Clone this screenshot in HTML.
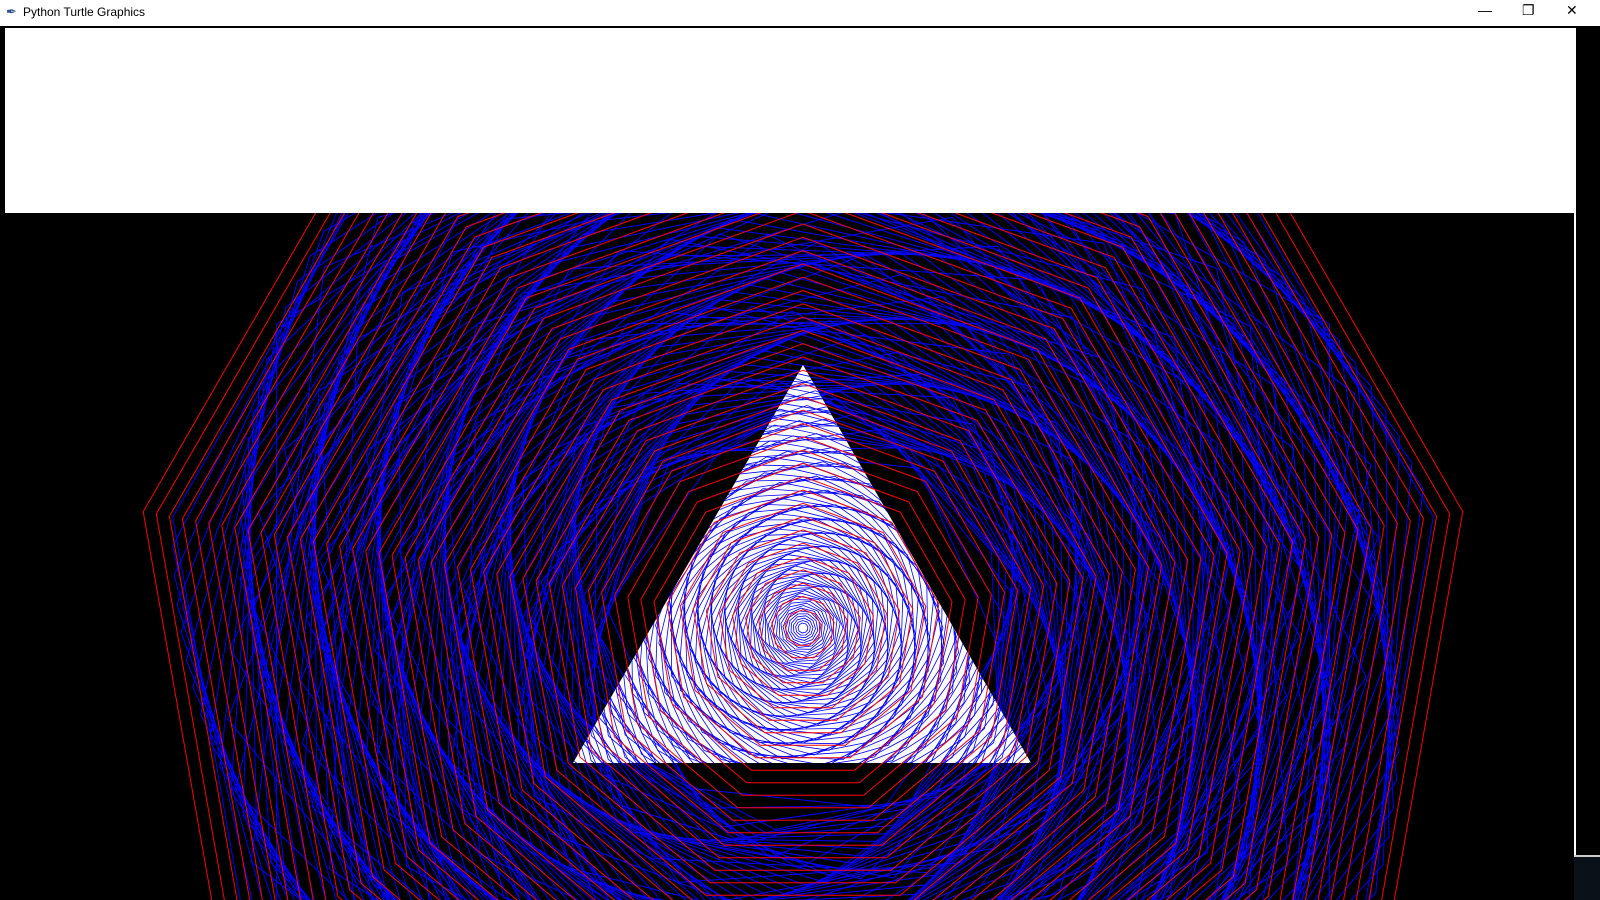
<!DOCTYPE html>
<html style="overflow:hidden;width:1600px;height:900px"><head><meta charset="utf-8"><style>
html,body{margin:0;padding:0;width:1600px;height:900px;overflow:hidden;background:#000;font-family:"Liberation Sans",sans-serif}
#titlebar{position:absolute;left:0;top:0;width:1600px;height:26px;background:#fff}
#title{position:absolute;left:23px;top:5px;font-size:12px;color:#000}
.btn{position:absolute;top:2px;font-size:14px;color:#000}
svg{position:absolute;left:0;top:0;display:block}
</style></head><body>
<div id="titlebar">
<span style="position:absolute;left:6px;top:4px;font-size:13px;color:#2a4f8a">✒</span>
<span id="title">Python Turtle Graphics</span>
<span class="btn" style="left:1478px">—</span>
<span class="btn" style="left:1522px">❐</span>
<span class="btn" style="left:1566px">✕</span>
</div>
<svg id="cv" width="1600" height="900"></svg>
<script>
const center=[803,628];
const redRadii=[];for(let r=670;r>10;r-=13.3)redRadii.push(r);
const blueRadii=[];for(let r=640;r>200;r-=4.5)blueRadii.push(r);
const triRadii=[];for(let r=265;r>4;r-=2.5)triRadii.push(r);
const svg=document.getElementById('cv');
const NS='http://www.w3.org/2000/svg';
function mk(t,a){const e=document.createElementNS(NS,t);for(const k in a)e.setAttribute(k,a[k]);return e;}
function poly(r,n,rot){let p=[];for(let i=0;i<n;i++){const a=(rot+90+360*i/n)*Math.PI/180;p.push((center[0]+r*Math.cos(a)).toFixed(1)+','+(center[1]-r*Math.sin(a)).toFixed(1));}return p.join(' ');}
const bg=mk('rect',{x:0,y:26,width:1600,height:874,fill:'#000'});


svg.appendChild(bg);
const defs=mk('defs',{});
const cp=mk('clipPath',{id:'cc'});cp.appendChild(mk('rect',{x:5,y:213,width:1569,height:687}));defs.appendChild(cp);
const tp=mk('clipPath',{id:'tc'});tp.appendChild(mk('polygon',{points:'803,365 573,763 1031,763'}));defs.appendChild(tp);
svg.appendChild(defs);
const g=mk('g',{'clip-path':'url(#cc)'});svg.appendChild(g);
blueRadii.forEach((r,i)=>{
  const p=mk('polygon',{points:poly(r,9,i*2.6),fill:'none',stroke:'#0000ff','stroke-width':1});
  
  
  g.appendChild(p);
});
blueRadii.forEach((r,i)=>{
  if(i%2)return;
  const p=mk('polygon',{points:poly(r*0.95,6,-i*3.5),fill:'none',stroke:'#0000ff','stroke-width':1});
  
  
  g.appendChild(p);
});
const tri=mk('polygon',{points:'803,365 573,763 1031,763',fill:'#fff'});


g.appendChild(tri);
const tg=mk('g',{'clip-path':'url(#tc)'});g.appendChild(tg);
triRadii.forEach((r,i)=>{
  const p=mk('polygon',{points:poly(r,9,i*7),fill:'none',stroke:'#0000ff','stroke-width':0.8});
  
  
  tg.appendChild(p);
});
redRadii.forEach((r)=>{
  const p=mk('polygon',{points:poly(r,9,0),fill:'none',stroke:'#ff0000','stroke-width':1});
  
  
  g.appendChild(p);
});
const wt=mk('rect',{x:5,y:28,width:1569,height:185,fill:'#fff'});


svg.appendChild(wt);
const br=mk('rect',{x:1574,y:28,width:2,height:828,fill:'#fff'});


svg.appendChild(br);
const tb=mk('rect',{x:1574,y:856,width:26,height:44,fill:'#0b1118'});


svg.appendChild(tb);
svg.appendChild(mk('rect',{x:1574,y:855,width:26,height:2,fill:'#ccc'}));
</script>
</body></html>
